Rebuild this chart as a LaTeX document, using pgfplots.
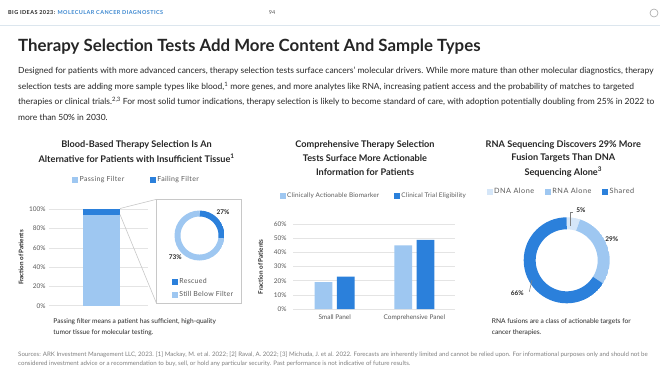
\documentclass[border=0pt]{standalone}
\usepackage{fontspec}
\setmainfont{Lato}
\usepackage{pgfplots}
\pgfplotsset{compat=1.18}
\usepgfplotslibrary{polar}
\definecolor{dblue}{HTML}{2B80DB}
\definecolor{lblue}{HTML}{9EC7F1}
\definecolor{vlblue}{HTML}{D5E6F8}
\definecolor{gridc}{HTML}{E4E4E4}
\definecolor{tickc}{HTML}{595959}
\definecolor{txt}{HTML}{262626}
\definecolor{hdrblue}{HTML}{3B87D0}
\definecolor{linec}{HTML}{C8C8C8}
\definecolor{hdrline}{HTML}{DCE6EE}
\newcommand\fs[1]{\fontsize{#1}{#1}\selectfont}
\pgfplotsset{
  sq/.style={legend image code/.code={\fill[#1] (0bp,-2.4bp) rectangle (4.8bp,2.4bp);}},
  barbase/.style={scale only axis, axis line style={draw=none}, major tick length=0pt,
    ymajorgrids, grid style={gridc, line width=0.6bp},
    yticklabel style={font=\fs{6.5}, text=tickc},
    ylabel style={font=\fs{6.3}\bfseries, text=txt, anchor=center}},
  legbase/.style={legend style={draw=none, fill=none, text=tickc, legend cell align=left}},
}
\begin{document}
\begin{tikzpicture}[x=1bp,y=-1bp]
\fill[white] (0,0) rectangle (660,371);
\path[use as bounding box] (0,0) rectangle (660,371);
% header
\node[anchor=west, inner sep=0, font=\fs{5.5}\bfseries\addfontfeatures{LetterSpace=8}, text=txt] at (8,13) {BIG IDEAS 2023: \textcolor{hdrblue}{MOLECULAR CANCER DIAGNOSTICS}};
\node[inner sep=0, font=\fs{5.5}, text=tickc] at (272,13) {94};
\draw[gray!70, line width=0.6] (654,13) circle (4);
\draw[color=hdrline, line width=1] (0,25.5) -- (660,25.5);
% title and body
\node[anchor=west, inner sep=0, font=\fs{16.9}\bfseries, text=txt] at (18,47) {Therapy Selection Tests Add More Content And Sample Types};
\begin{scope}[every node/.style={anchor=west, inner sep=0, font=\fs{8.5}, text=txt}]
\node at (18,71) {Designed for patients with more advanced cancers, therapy selection tests surface cancers’ molecular drivers. While more mature than other molecular diagnostics, therapy};
\node at (18,86.5) {selection tests are adding more sample types like blood,\textsuperscript{1} more genes, and more analytes like RNA, increasing patient access and the probability of matches to targeted};
\node at (18,102) {therapies or clinical trials.\textsuperscript{2,3} For most solid tumor indications, therapy selection is likely to become standard of care, with adoption potentially doubling from 25\% in 2022 to};
\node at (18,117) {more than 50\% in 2030.};
\end{scope}
% chart titles
\begin{scope}[every node/.style={inner sep=0, font=\fs{9.2}\bfseries, text=txt}]
\node at (136.6,145) {Blood-Based Therapy Selection Is An};
\node at (136.6,158.3) {Alternative for Patients with Insufficient Tissue\textsuperscript{1}};
\node at (365,145) {Comprehensive Therapy Selection};
\node at (365,158.3) {Tests Surface More Actionable};
\node at (365,172.3) {Information for Patients};
\node at (563.3,145) {RNA Sequencing Discovers 29\% More};
\node at (563.3,158.3) {Fusion Targets Than DNA};
\node at (563.3,172.3) {Sequencing Alone\textsuperscript{3}};
\end{scope}
% ---------- chart 1 ----------
\coordinate (a1) at (49,305.7);
\begin{axis}[at={(a1)}, anchor=south west, barbase, width=99bp, height=96.4bp,
  xmin=0, xmax=1, ymin=0, ymax=100, ybar stacked, bar width=37bp,
  xtick=\empty, ytick={0,20,40,60,80,100},
  yticklabels={0\%,20\%,40\%,60\%,80\%,100\%},
  ylabel={Fraction of Patients}, ylabel style={at={(axis description cs:-0.283,0.5)}},
  legbase,
  legend style={at={(axis description cs:0.885,1.311)}, anchor=center,
    font=\fs{7}\addfontfeatures{LetterSpace=5}, legend columns=2,
    /tikz/every even column/.append style={column sep=24bp}}]
\addlegendimage{sq=lblue}\addlegendentry{Passing Filter}
\addlegendimage{sq=dblue}\addlegendentry{Failing Filter}
\addplot[fill=lblue, draw=none] coordinates {(0.53,94)};
\addplot[fill=dblue, draw=none] coordinates {(0.53,6)};
\end{axis}
\draw[linec, line width=0.6] (120,208.5) -- (156.5,199.3);
\draw[linec, line width=0.6] (120,214.5) -- (156.5,303.3);
\draw[linec, line width=0.6] (156.5,199.3) rectangle (241,303.3);
\coordinate (d1) at (199.5,235.5);
\begin{polaraxis}[at={(d1)}, anchor=center, scale only axis, width=50bp, height=50bp,
  hide axis, ymin=0, ymax=25, legbase,
  legend style={at={(axis description cs:-0.11,-0.27)}, anchor=north west,
    font=\fs{7}\addfontfeatures{LetterSpace=4}, row sep=2.5bp}]
\addlegendimage{sq=dblue}\addlegendentry{Rescued}
\addlegendimage{sq=lblue}\addlegendentry{Still Below Filter}
\addplot[domain=-7.2:90, samples=60, line width=6bp, dblue, no markers] {22};
\addplot[domain=-270:-7.2, samples=160, line width=6bp, lblue, no markers] {22};
\end{polaraxis}
\node[inner sep=0, font=\fs{6.5}\bfseries, text=txt] at (223,212.3) {27\%};
\node[inner sep=0, font=\fs{6.5}\bfseries, text=txt] at (175.3,257.3) {73\%};
\node[anchor=west, inner sep=0, font=\fs{6.65}, text=txt] at (53.3,321.7) {Passing filter means a patient has sufficient, high-quality};
\node[anchor=west, inner sep=0, font=\fs{6.65}, text=txt] at (53.3,333) {tumor tissue for molecular testing.};
% ---------- chart 2 ----------
\coordinate (a2) at (293,309);
\begin{axis}[at={(a2)}, anchor=south west, barbase, width=162bp, height=84.7bp,
  xmin=-0.523, xmax=1.51, ymin=0, ymax=60, ybar=4.5bp, bar width=17.7bp,
  xtick={0,1}, xticklabels={Small Panel, Comprehensive Panel},
  xticklabel style={font=\fs{6.5}, text=tickc, yshift=-2.5bp},
  ytick={0,10,20,30,40,50,60},
  yticklabels={0\%,10\%,20\%,30\%,40\%,50\%,60\%},
  yticklabel style={xshift=-3bp},
  ylabel={Fraction of Patients}, ylabel style={at={(axis description cs:-0.2,0.5)}},
  legbase,
  legend style={at={(axis description cs:0.5,1.338)}, anchor=center,
    font=\fs{6.4}\addfontfeatures{LetterSpace=3}, legend columns=2,
    /tikz/every even column/.append style={column sep=13bp}}]
\addlegendimage{sq=lblue}\addlegendentry{Clinically Actionable Biomarker}
\addlegendimage{sq=dblue}\addlegendentry{Clinical Trial Eligibility}
\addplot[fill=lblue, draw=none] coordinates {(0,19) (1,45)};
\addplot[fill=dblue, draw=none] coordinates {(0,23) (1,49)};
\end{axis}
% ---------- chart 3 ----------
\coordinate (d3) at (566.7,260.3);
\begin{polaraxis}[at={(d3)}, anchor=center, scale only axis, width=86bp, height=86bp,
  hide axis, ymin=0, ymax=43, legbase,
  legend style={at={(axis description cs:0.44,1.298)}, anchor=center,
    font=\fs{7.3}\addfontfeatures{LetterSpace=7}, legend columns=3,
    /tikz/every even column/.append style={column sep=9bp}}]
\addlegendimage{sq=vlblue}\addlegendentry{DNA Alone}
\addlegendimage{sq=lblue}\addlegendentry{RNA Alone}
\addlegendimage{sq=dblue}\addlegendentry{Shared}
\addplot[domain=72:90, samples=15, line width=12bp, vlblue, no markers] {37};
\addplot[domain=-32.4:72, samples=60, line width=12bp, lblue, no markers] {37};
\addplot[domain=-270:-32.4, samples=160, line width=12bp, dblue, no markers] {37};
\end{polaraxis}
\draw[gray, line width=0.6] (570,226) -- (570,212) -- (573,212);
\draw[gray, line width=0.6] (529.3,291.7) -- (532,280);
\node[inner sep=0, font=\fs{6.5}\bfseries, text=txt] at (581,210) {5\%};
\node[inner sep=0, font=\fs{6.5}\bfseries, text=txt] at (611.7,239.3) {29\%};
\node[inner sep=0, font=\fs{6.5}\bfseries, text=txt] at (517.3,292.7) {66\%};
\node[anchor=west, inner sep=0, font=\fs{6.65}, text=txt] at (491.7,321.7) {RNA fusions are a class of actionable targets for};
\node[anchor=west, inner sep=0, font=\fs{6.65}, text=txt] at (491.7,333) {cancer therapies.};
% footer
\node[anchor=west, inner sep=0, font=\fs{6.15}, text=gray] at (18,355) {Sources: ARK Investment Management LLC, 2023. [1] Mackay, M. et al. 2022; [2] Raval, A. 2022; [3] Michuda, J. et al. 2022. Forecasts are inherently limited and cannot be relied upon. For informational purposes only and should not be};
\node[anchor=west, inner sep=0, font=\fs{6.15}, text=gray] at (18,364) {considered investment advice or a recommendation to buy, sell, or hold any particular security. Past performance is not indicative of future results.};
\end{tikzpicture}
\end{document}
